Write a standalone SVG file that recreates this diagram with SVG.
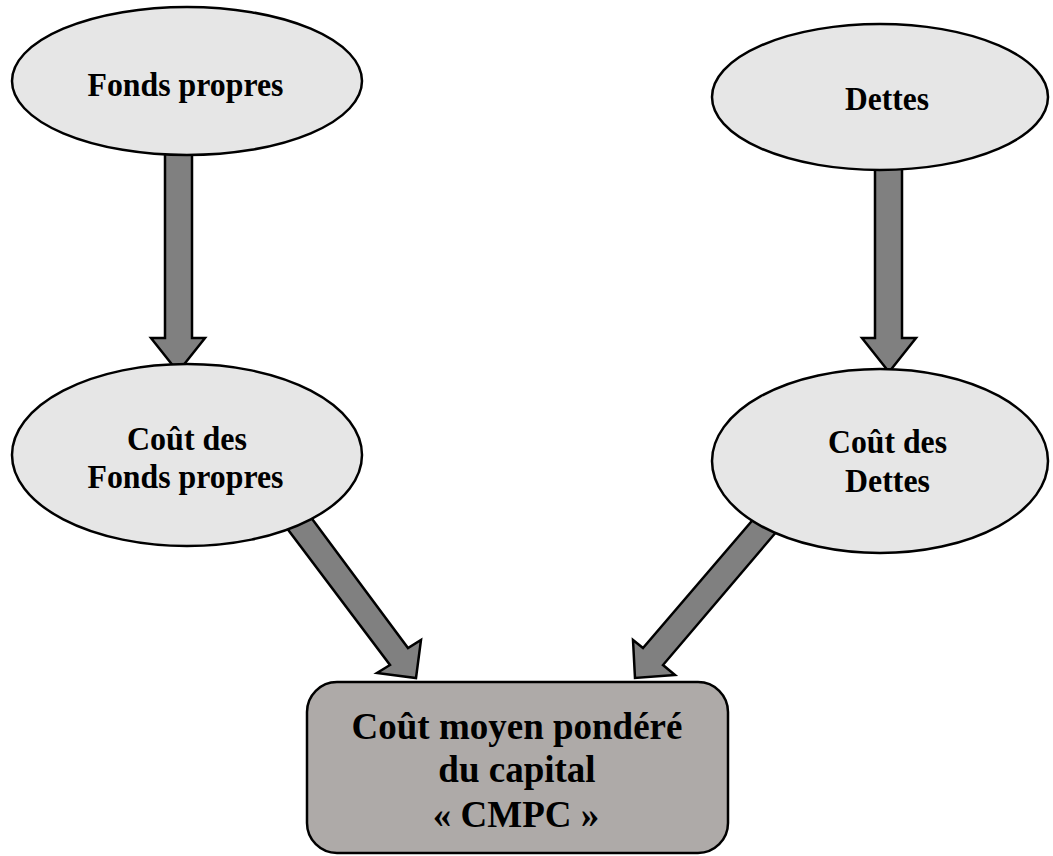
<svg xmlns="http://www.w3.org/2000/svg" width="1053" height="856" viewBox="0 0 1053 856">
<style>
.arrow{fill:#808080;stroke:#000;stroke-width:2.5;stroke-linejoin:miter}
.ell{fill:#e6e6e6;stroke:#000;stroke-width:2.5}
.box{fill:#aeaaa8;stroke:#000;stroke-width:2.5}
.t{font-family:"Liberation Serif","Times New Roman",serif;font-weight:bold;fill:#000;text-anchor:middle}
.s{font-size:34px}
.b{font-size:37px}
</style>
<rect width="1053" height="856" fill="#fff"/>
<g id="connectors">
<polygon class="arrow" points="165,140 192,140 192,338 205,338 178,372 151,338 165,338"/>
<polygon class="arrow" points="875,150 902,150 902,338 916,338 889,372 862,338 875,338"/>
<polygon class="arrow" points="304,508 408,648 421,640 416,678 377,673 390,665 283,523"/>
<polygon class="arrow" points="763,508 643,648 633,640 635,678 675,675 663,665 783,524"/>
</g>
<g id="fonds-propres">
<ellipse class="ell" cx="187" cy="81" rx="175" ry="74"/>
<text class="t s" x="185.5" y="96" textLength="196" lengthAdjust="spacingAndGlyphs">Fonds propres</text>
</g>
<g id="dettes">
<ellipse class="ell" cx="880" cy="97" rx="168" ry="73"/>
<text class="t s" x="887" y="110" textLength="84" lengthAdjust="spacingAndGlyphs">Dettes</text>
</g>
<g id="cout-fonds-propres">
<ellipse class="ell" cx="187" cy="455" rx="175" ry="91"/>
<text class="t s" x="187" y="450" textLength="120" lengthAdjust="spacingAndGlyphs">Coût des</text>
<text class="t s" x="185.5" y="488" textLength="196" lengthAdjust="spacingAndGlyphs">Fonds propres</text>
</g>
<g id="cout-dettes">
<ellipse class="ell" cx="880" cy="461" rx="168" ry="92"/>
<text class="t s" x="887.5" y="453" textLength="119" lengthAdjust="spacingAndGlyphs">Coût des</text>
<text class="t s" x="887.5" y="492" textLength="85" lengthAdjust="spacingAndGlyphs">Dettes</text>
</g>
<g id="cmpc">
<rect class="box" x="307" y="682" width="421" height="171" rx="30" ry="30"/>
<text class="t b" x="517" y="739">Coût moyen pondéré</text>
<text class="t b" x="517" y="782">du capital</text>
<text class="t b" x="516" y="827">« CMPC »</text>
</g>
</svg>
